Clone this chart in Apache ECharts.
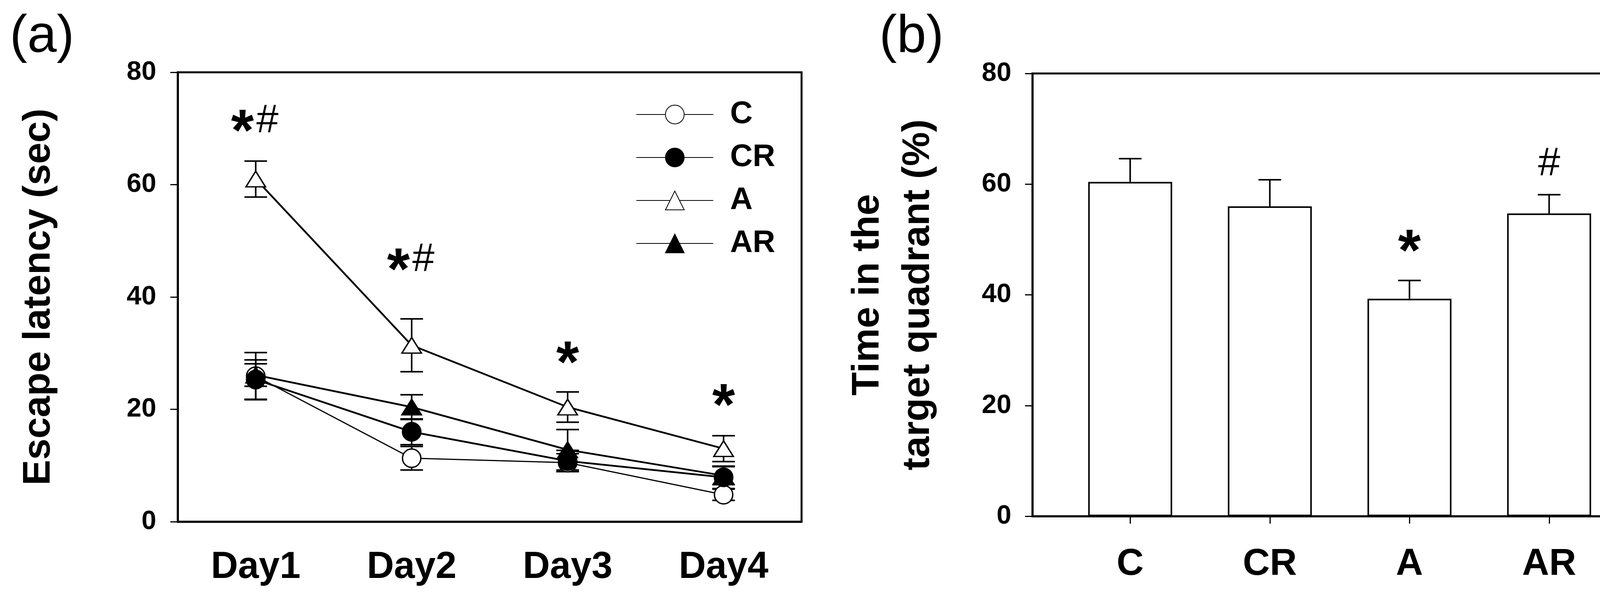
<!DOCTYPE html>
<html><head><meta charset="utf-8">
<script src="https://cdn.jsdelivr.net/npm/echarts@6/dist/echarts.min.js"></script>
<style>html,body{margin:0;padding:0;background:#fff}#c{width:4245px;height:1538px}</style>
</head><body><div id="c"></div>
<script>
// ---- Panel (a): escape latency ----
const days = ['Day1', 'Day2', 'Day3', 'Day4'];
const groupNames = ['C', 'CR', 'A', 'AR'];
const latC = [25.9, 11.3, 10.5, 4.8];
const latC_se = [4.2, 2.1, 1.6, 1.0];
const latCR = [25.3, 16.0, 10.8, 7.9];
const latCR_se = [3.5, 2.3, 1.9, 2.0];
const latA = [61.0, 31.4, 20.4, 13.0];
const latA_se = [3.2, 4.7, 2.7, 2.3];
const latAR = [26.1, 20.4, 12.8, 8.2];
const latAR_se = [2.0, 2.2, 3.6, 1.6];
const sigA_pos = [0, 1, 2, 3];
const sigA_y = [71.3, 46.6, 30.1, 22.5];
const sigA_text = ['*#', '*#', '*', '*'];
// ---- Panel (b): time in target quadrant ----
const barGroups = ['C', 'CR', 'A', 'AR'];
const timeQuad = [60.4, 56.0, 39.3, 54.7];
const timeQuad_se = [4.2, 4.8, 3.3, 3.4];
const sigB_pos = [2, 3];
const sigB_y = [49.7, 63.6];
const sigB_text = ['*', '#'];
const yMin = 0, yMax = 80, yStep = 20;

const FF = '"Liberation Sans", Arial, sans-serif';
const chart = echarts.init(document.getElementById('c'));

function sigMarks(t, pt) {
  const ch = [];
  const both = t.length > 1;
  for (let k = 0; k < t.length; k++) {
    const c = t[k];
    const dx = both ? (k === 0 ? -34 : 30) : 0;
    if (c === '*') {
      ch.push({type: 'text', x: pt[0] + dx, y: pt[1] + 34,
        style: {text: '*', fontSize: 150, fontWeight: 'bold', fontFamily: FF, fill: '#000', align: 'center', verticalAlign: 'middle'}});
    } else {
      ch.push({type: 'text', x: pt[0] + dx, y: pt[1],
        style: {text: '#', fontSize: 102, fontWeight: 'normal', fontFamily: FF, fill: '#000', align: 'center', verticalAlign: 'middle'}});
    }
  }
  return ch;
}

function errBarSeries(xi, yi, pos, means, ses, both, half, z) {
  return {
    type: 'custom', xAxisIndex: xi, yAxisIndex: yi, silent: true, z: z,
    data: means.map((m, i) => [pos[i], m, ses[i]]),
    renderItem: function (params, api) {
      const x = api.value(0), m = api.value(1), e = api.value(2);
      const top = api.coord([x, m + e]);
      const bot = api.coord([x, both ? m - e : m]);
      const st = {stroke: '#000', lineWidth: 4};
      const children = [
        {type: 'line', shape: {x1: top[0], y1: top[1], x2: bot[0], y2: bot[1]}, style: st},
        {type: 'line', shape: {x1: top[0] - half, y1: top[1], x2: top[0] + half, y2: top[1]}, style: st}
      ];
      if (both) children.push({type: 'line', shape: {x1: bot[0] - half, y1: bot[1], x2: bot[0] + half, y2: bot[1]}, style: st});
      return {type: 'group', children: children};
    }
  };
}

function lineSeries(name, data, symbol, filled, lw) {
  return {
    type: 'line', name: name, data: data, xAxisIndex: 0, yAxisIndex: 0, z: 4,
    symbol: symbol, symbolSize: symbol === 'circle' ? 47 : [50, 40],
    showAllSymbol: true,
    itemStyle: {color: filled ? '#000' : '#fff', borderColor: '#000', borderWidth: 3.5},
    lineStyle: {color: '#000', width: lw},
    emphasis: {disabled: true}
  };
}

const dayPos = days.map((d, i) => i);
const axisLabelStyle = {color: '#000', fontFamily: FF, fontWeight: 'bold'};

const option = {
  backgroundColor: '#fff',
  animation: false,
  graphic: [
    {type: 'text', x: 25, y: 96, style: {text: '(a)', fontSize: 135, fontFamily: FF, fill: '#000', align: 'left', verticalAlign: 'middle'}},
    {type: 'text', x: 2251, y: 96, style: {text: '(b)', fontSize: 135, fontFamily: FF, fill: '#000', align: 'left', verticalAlign: 'middle'}}
  ],
  legend: {
    data: groupNames, orient: 'vertical', left: 1623, top: 248,
    itemWidth: 197, itemHeight: 60, itemGap: 30,
    textStyle: {fontSize: 80, fontWeight: 'bold', fontFamily: FF, color: '#000', padding: [0, 0, 0, 38]},
    selectedMode: false
  },
  grid: [
    {left: 455, top: 185, width: 1597, height: 1150, show: true, borderColor: '#000', borderWidth: 5, containLabel: false},
    {left: 2643, top: 188, width: 1573, height: 1133, show: true, borderColor: '#000', borderWidth: 5, containLabel: false}
  ],
  xAxis: [
    {type: 'category', gridIndex: 0, data: days, boundaryGap: true,
      axisLine: {onZero: false, lineStyle: {color: '#000', width: 5}},
      axisTick: {alignWithLabel: true, length: 19, lineStyle: {color: '#000', width: 3}},
      axisLabel: Object.assign({fontSize: 96, margin: 70}, axisLabelStyle),
      splitLine: {show: false}},
    {type: 'value', gridIndex: 1, min: -0.7, max: 3.7,
      axisLine: {onZero: false, lineStyle: {color: '#000', width: 5}},
      axisTick: {show: true, customValues: [0, 1, 2, 3], length: 19, lineStyle: {color: '#000', width: 3}},
      axisLabel: Object.assign({fontSize: 96, margin: 76, customValues: [0, 1, 2, 3],
        formatter: function (v) { return barGroups[Math.round(v)] || ''; }}, axisLabelStyle),
      splitLine: {show: false}}
  ],
  yAxis: [
    {type: 'value', gridIndex: 0, min: yMin, max: yMax, interval: yStep,
      name: 'Escape latency (sec)', nameLocation: 'middle', nameGap: 306,
      nameTextStyle: {fontSize: 98, fontWeight: 'bold', fontFamily: FF, color: '#000'},
      axisLine: {show: true, onZero: false, lineStyle: {color: '#000', width: 5}},
      axisTick: {show: true, length: 19, lineStyle: {color: '#000', width: 3}},
      axisLabel: Object.assign({fontSize: 68, margin: 55}, axisLabelStyle),
      splitLine: {show: false}},
    {type: 'value', gridIndex: 1, min: yMin, max: yMax, interval: yStep,
      name: 'Time in the\ntarget quadrant (%)', nameLocation: 'middle', nameGap: 228,
      nameTextStyle: {fontSize: 98, fontWeight: 'bold', fontFamily: FF, color: '#000', lineHeight: 129},
      axisLine: {show: true, onZero: false, lineStyle: {color: '#000', width: 5}},
      axisTick: {show: true, length: 19, lineStyle: {color: '#000', width: 3}},
      axisLabel: Object.assign({fontSize: 68, margin: 54}, axisLabelStyle),
      splitLine: {show: false}}
  ],
  series: [
    errBarSeries(0, 0, dayPos, latC, latC_se, true, 29, 2),
    errBarSeries(0, 0, dayPos, latCR, latCR_se, true, 29, 2),
    errBarSeries(0, 0, dayPos, latA, latA_se, true, 29, 2),
    errBarSeries(0, 0, dayPos, latAR, latAR_se, true, 29, 2),
    lineSeries('C', latC, 'circle', false, 3),
    lineSeries('CR', latCR, 'circle', true, 4.5),
    lineSeries('A', latA, 'triangle', false, 4.5),
    lineSeries('AR', latAR, 'triangle', true, 4.5),
    {type: 'custom', xAxisIndex: 0, yAxisIndex: 0, silent: true, z: 6,
      data: sigA_pos.map((p, i) => [p, sigA_y[i]]),
      renderItem: function (params, api) {
        const pt = api.coord([api.value(0), api.value(1)]);
        return {type: 'group', children: sigMarks(sigA_text[params.dataIndex], pt)};
      }},
    {type: 'bar', xAxisIndex: 1, yAxisIndex: 1, barWidth: 215, z: 2,
      data: timeQuad.map((v, i) => [i, v]),
      itemStyle: {color: '#fff', borderColor: '#000', borderWidth: 4},
      emphasis: {disabled: true}},
    errBarSeries(1, 1, barGroups.map((g, i) => i), timeQuad, timeQuad_se, false, 29, 1),
    {type: 'custom', xAxisIndex: 1, yAxisIndex: 1, silent: true, z: 6,
      data: sigB_pos.map((p, i) => [p, sigB_y[i]]),
      renderItem: function (params, api) {
        const pt = api.coord([api.value(0), api.value(1)]);
        return {type: 'group', children: sigMarks(sigB_text[params.dataIndex], pt)};
      }}
  ]
};
chart.setOption(option);
</script>
</body></html>
